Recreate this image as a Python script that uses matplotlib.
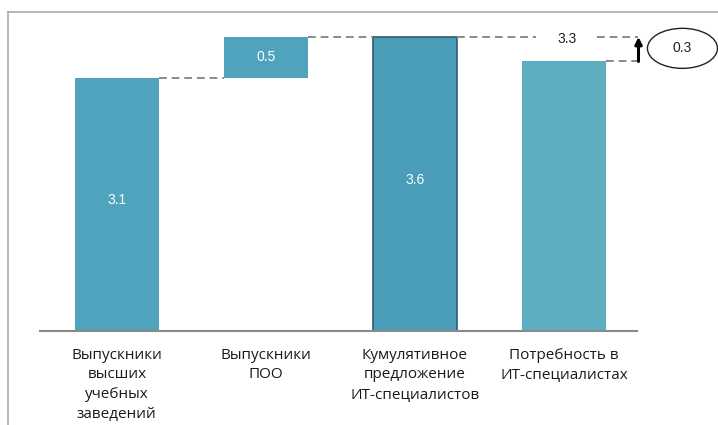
import matplotlib.pyplot as plt
from matplotlib.patches import Ellipse
from matplotlib.lines import Line2D

plt.rcParams['font.family'] = ['Open Sans', 'DejaVu Sans']

labels = ["Выпускники\nвысших\nучебных\nзаведений",
          "Выпускники\nПОО",
          "Кумулятивное\nпредложение\nИТ-специалистов",
          "Потребность в\nИТ-специалистах"]
graduates_vuz = 3.1
graduates_poo = 0.5
supply = 3.6
demand = 3.3
gap = round(supply - demand, 1)

heights = [graduates_vuz, graduates_poo, supply, demand]
bottoms = [0, graduates_vuz, 0, 0]
colors = ["#4fa3bd", "#4fa3bd", "#4a9db9", "#5eaec2"]
edges = ["none", "none", "#2f5f73", "none"]

fig = plt.figure(figsize=(7.18, 4.25), dpi=100)
ax = fig.add_axes([40/718, 94/425, 597/718, 319/425])

x = range(len(labels))
w = 0.56
for i in x:
    ax.bar(i, heights[i], w, bottom=bottoms[i], color=colors[i],
           edgecolor=edges[i], linewidth=1.2 if edges[i] != "none" else 0)

# value labels inside bars
num = dict(fontsize=10, family="Liberation Sans", ha="center", va="center")
ax.text(0, graduates_vuz / 2 + 0.05, f"{graduates_vuz}", color="white", **num)
ax.text(1, graduates_vuz + graduates_poo / 2, f"{graduates_poo}", color="white", **num)
ax.text(2, supply / 2 + 0.05, f"{supply}", color="white", **num)
ax.text(3.02, supply - 0.03, f"{demand}", color="#222222", **num)

# connector lines
dash = dict(color="#8a8a8a", linestyle=(0, (4, 2.5)), linewidth=1.4)
ax.plot([w/2, 1 - w/2], [graduates_vuz]*2, **dash)
ax.plot([1 + w/2, 2 - w/2], [supply]*2, **dash)
ax.plot([2 + w/2, 2.81], [supply]*2, **dash)
ax.plot([3.22, 3.5], [supply]*2, **dash, clip_on=False)
ax.plot([3 + w/2, 3.5], [demand]*2, **dash, clip_on=False)

# gap arrow and ellipse
ax.annotate("", xy=(3.5, supply), xytext=(3.5, demand),
            arrowprops=dict(arrowstyle="-|>", color="black", lw=2.2, mutation_scale=10,
                            shrinkA=0, shrinkB=0), annotation_clip=False)
ax.add_patch(Ellipse((3.795, (supply + demand) / 2 + 0.01), 0.47, 0.49, fill=False,
                     edgecolor="#222222", linewidth=1, clip_on=False))
ax.text(3.795, (supply + demand) / 2 + 0.01, f"{gap}", color="#222222", **num)

ax.set_xlim(-0.516, 3.49)
ax.set_ylim(0, 3.905)
ax.set_xticks(list(x))
ax.set_xticklabels(labels, fontsize=11, color="#1a1a1a", linespacing=1.42)
ax.tick_params(length=0, pad=12)
ax.set_yticks([])
for s in ["top", "left", "right"]:
    ax.spines[s].set_visible(False)
ax.spines["bottom"].set_color("#8a8a8a")
ax.spines["bottom"].set_linewidth(1.5)

# outer frame (cropped at right and bottom)
fig.add_artist(Line2D([8/718, 1], [413/425, 413/425], color="#aaaaaa", linewidth=1.2))
fig.add_artist(Line2D([8/718, 8/718], [0, 413/425], color="#aaaaaa", linewidth=1.2))

fig.savefig("out.png", dpi=100)
